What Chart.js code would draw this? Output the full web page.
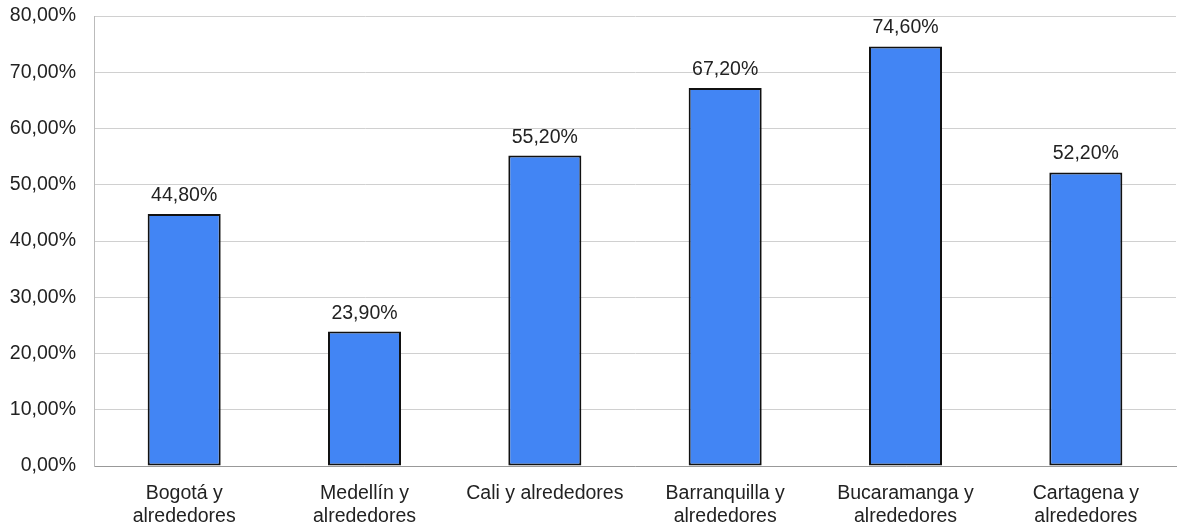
<!DOCTYPE html>
<html><head><meta charset="utf-8">
<script src="https://cdn.jsdelivr.net/npm/chart.js@4/dist/chart.umd.min.js"></script>
<style>html,body{margin:0;padding:0;background:#fff;}#wrap{width:1177px;height:527px;position:relative;}</style>
</head><body><div id="wrap"><canvas id="c"></canvas></div>
<script>
const categories = [["Bogotá y","alrededores"],["Medellín y","alrededores"],"Cali y alrededores",["Barranquilla y","alrededores"],["Bucaramanga y","alrededores"],["Cartagena y","alrededores"]];
const values = [44.8, 23.9, 55.2, 67.2, 74.6, 52.2];
const yTicks = [0,10,20,30,40,50,60,70,80];
const fmt = v => v.toFixed(2).replace('.', ',') + '%';
const FONT = '"Liberation Sans", Arial, sans-serif';

const labelPlugin = {
  id: 'labels',
  afterDatasetsDraw(chart) {
    const ctx = chart.ctx;
    const meta = chart.getDatasetMeta(0);
    ctx.save();
    ctx.font = '19.5px ' + FONT;
    ctx.fillStyle = '#222';
    ctx.textAlign = 'center';
    ctx.textBaseline = 'alphabetic';
    meta.data.forEach((bar, i) => {
      ctx.fillText(fmt(values[i]), bar.x, bar.y - 13);
    });
    ctx.restore();
  }
};

new Chart(document.getElementById('c'), {
  type: 'bar',
  data: { labels: categories, datasets: [{ data: values, backgroundColor: '#4285F4', borderColor: '#111', borderWidth: 2, borderSkipped: false, barPercentage: 0.81, categoryPercentage: 0.5 }] },
  options: {
    responsive: true, maintainAspectRatio: false, animation: false,
    layout: { padding: { top: 16, right: 1, left: 0, bottom: 0 } },
    plugins: { legend: { display: false }, tooltip: { enabled: false } },
    scales: {
      x: {
        afterFit(axis) { axis.height = 61; axis.paddingLeft = 0; axis.paddingRight = 0; },
        grid: { display: false, drawTicks: false },
        border: { color: '#999', width: 1 },
        ticks: { color: '#222', font: { family: FONT, size: 19.5, lineHeight: 1.2 }, padding: 16, maxRotation: 0, autoSkip: false }
      },
      y: {
        min: 0, max: 80,
        afterBuildTicks(axis) { axis.ticks = yTicks.map(v => ({ value: v })); },
        afterFit(axis) { axis.width = 94; axis.paddingTop = 0; axis.paddingBottom = 0; },
        grid: { color: '#d0d0d0', drawTicks: false },
        border: { color: '#bbb', width: 1 },
        ticks: { color: '#222', padding: 18, font: { family: FONT, size: 19.5 }, callback: v => fmt(v) }
      }
    }
  },
  plugins: [labelPlugin]
});
</script></body></html>
